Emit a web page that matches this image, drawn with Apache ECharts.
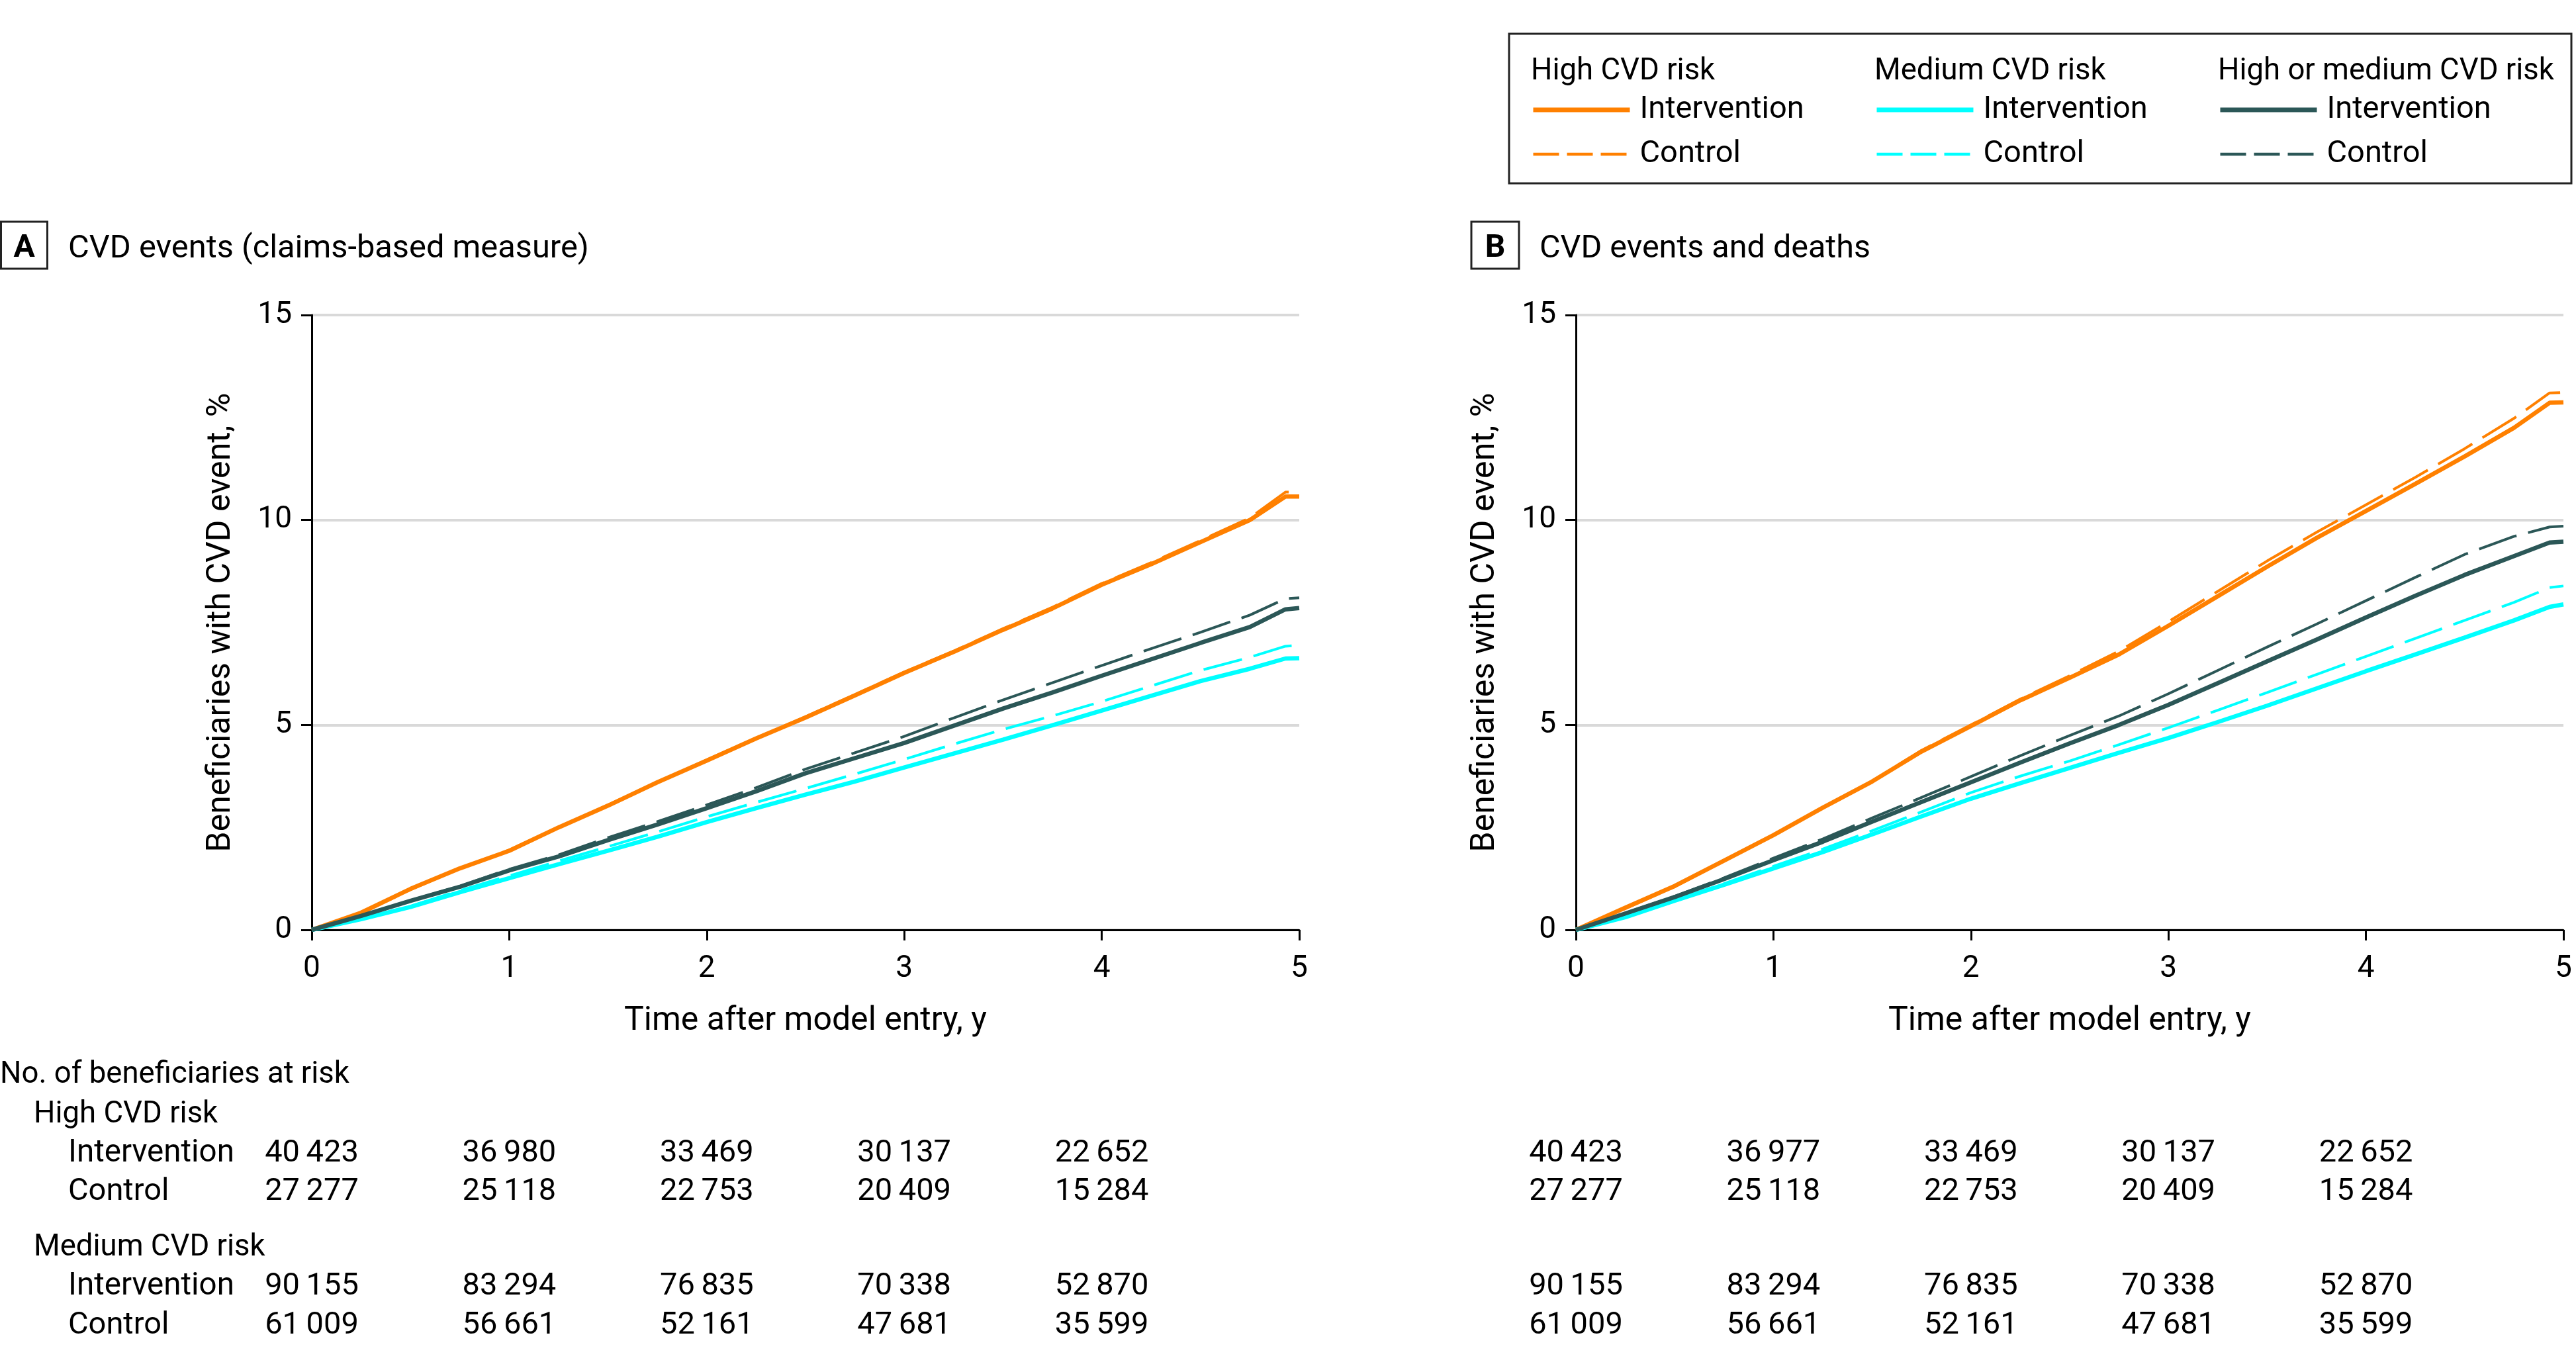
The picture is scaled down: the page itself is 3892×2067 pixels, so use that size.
<!DOCTYPE html>
<html>
<head>
<meta charset="utf-8">
<script src="https://cdn.jsdelivr.net/npm/echarts@6/dist/echarts.min.js"></script>
<style>
  html, body { margin: 0; padding: 0; background: #fff; }
  #main { width: 3892px; height: 2067px; }
</style>
</head>
<body>
<div id="main"></div>
<script>
// time points (years after model entry)
var years = [0, 0.25, 0.5, 0.75, 1, 1.25, 1.5, 1.75, 2, 2.25, 2.5, 2.75, 3, 3.25, 3.5, 3.75, 4, 4.25, 4.5, 4.75, 4.93, 5];

// A: CVD events (claims-based measure), cumulative %
var highIntA = [0, 0.42, 1.0, 1.5, 1.93, 2.5, 3.03, 3.6, 4.13, 4.67, 5.18, 5.72, 6.27, 6.78, 7.32, 7.84, 8.42, 8.92, 9.46, 10.0, 10.57, 10.57];
var highCtlA = [0, 0.4, 0.98, 1.5, 1.95, 2.5, 3.05, 3.6, 4.15, 4.68, 5.2, 5.74, 6.29, 6.8, 7.35, 7.87, 8.45, 8.96, 9.5, 10.05, 10.68, 10.68];
var medIntA = [0, 0.26, 0.56, 0.92, 1.26, 1.6, 1.93, 2.27, 2.63, 2.97, 3.3, 3.62, 3.96, 4.3, 4.64, 4.99, 5.35, 5.71, 6.07, 6.37, 6.62, 6.63];
var medCtlA = [0, 0.27, 0.58, 0.96, 1.32, 1.68, 2.03, 2.39, 2.76, 3.11, 3.45, 3.8, 4.16, 4.53, 4.89, 5.22, 5.57, 5.95, 6.33, 6.65, 6.92, 6.94];
var bothIntA = [0, 0.34, 0.71, 1.05, 1.45, 1.79, 2.19, 2.57, 2.97, 3.38, 3.82, 4.19, 4.56, 4.98, 5.4, 5.79, 6.2, 6.6, 7.0, 7.39, 7.82, 7.85];
var bothCtlA = [0, 0.34, 0.72, 1.07, 1.48, 1.83, 2.25, 2.64, 3.05, 3.47, 3.92, 4.32, 4.72, 5.17, 5.61, 6.03, 6.45, 6.86, 7.26, 7.68, 8.08, 8.1];

// B: CVD events and deaths, cumulative %
var highIntB = [0, 0.54, 1.07, 1.69, 2.31, 2.98, 3.62, 4.35, 4.97, 5.6, 6.15, 6.72, 7.42, 8.14, 8.86, 9.56, 10.22, 10.88, 11.55, 12.25, 12.86, 12.87];
var highCtlB = [0, 0.52, 1.05, 1.68, 2.3, 2.98, 3.63, 4.38, 5.0, 5.63, 6.2, 6.8, 7.52, 8.26, 9.0, 9.7, 10.37, 11.04, 11.74, 12.48, 13.1, 13.11];
var medIntB = [0, 0.31, 0.71, 1.1, 1.5, 1.9, 2.33, 2.77, 3.2, 3.58, 3.95, 4.32, 4.68, 5.07, 5.47, 5.89, 6.31, 6.72, 7.13, 7.55, 7.88, 7.94];
var medCtlB = [0, 0.32, 0.73, 1.13, 1.55, 1.97, 2.42, 2.88, 3.35, 3.75, 4.12, 4.52, 4.93, 5.36, 5.79, 6.23, 6.67, 7.11, 7.55, 7.99, 8.35, 8.39];
var bothIntB = [0, 0.4, 0.8, 1.24, 1.7, 2.15, 2.64, 3.12, 3.6, 4.08, 4.55, 5.0, 5.49, 6.02, 6.55, 7.08, 7.62, 8.15, 8.66, 9.12, 9.45, 9.47];
var bothCtlB = [0, 0.41, 0.82, 1.27, 1.75, 2.22, 2.73, 3.23, 3.74, 4.25, 4.74, 5.22, 5.76, 6.33, 6.9, 7.46, 8.03, 8.6, 9.16, 9.6, 9.83, 9.85];

// number at risk
var riskYears = [0, 1, 2, 3, 4];
var riskHighIntA = [40423, 36980, 33469, 30137, 22652];
var riskHighCtlA = [27277, 25118, 22753, 20409, 15284];
var riskMedIntA = [90155, 83294, 76835, 70338, 52870];
var riskMedCtlA = [61009, 56661, 52161, 47681, 35599];
var riskHighIntB = [40423, 36977, 33469, 30137, 22652];
var riskHighCtlB = [27277, 25118, 22753, 20409, 15284];
var riskMedIntB = [90155, 83294, 76835, 70338, 52870];
var riskMedCtlB = [61009, 56661, 52161, 47681, 35599];

var FONT = 'Roboto, "Liberation Sans", sans-serif';
var ORANGE = '#FF8000', CYAN = '#00FFFF', DARK = '#2B5757';

var chart = echarts.init(document.getElementById('main'));

function makeLine(name, values, idx, color, dashed) {
    return {
        type: 'line',
        name: name,
        xAxisIndex: idx,
        yAxisIndex: idx,
        symbol: 'none',
        showSymbol: false,
        silent: true,
        z: dashed ? 2 : 3,
        itemStyle: {color: color},
        lineStyle: {color: color, width: dashed ? 4 : 6.5, type: dashed ? [60, 18] : 'solid'},
        data: years.map(function (t, i) { return [t, values[i]]; })
    };
}

function xAxisOf(idx) {
    return {
        type: 'value', gridIndex: idx, min: 0, max: 5, interval: 1,
        axisLine: {show: true, lineStyle: {color: '#000', width: 3}},
        axisTick: {show: true, length: 16, lineStyle: {color: '#000', width: 3}},
        axisLabel: {fontSize: 46, color: '#000', margin: 36, fontFamily: FONT},
        splitLine: {show: false},
        name: 'Time after model entry, y',
        nameLocation: 'middle',
        nameGap: 113,
        nameTextStyle: {fontSize: 50, color: '#000', fontFamily: FONT}
    };
}

function yAxisOf(idx) {
    return {
        type: 'value', gridIndex: idx, min: 0, max: 15, interval: 5,
        axisLine: {show: true, lineStyle: {color: '#000', width: 3}},
        axisTick: {show: true, length: 16, lineStyle: {color: '#000', width: 3}},
        axisLabel: {fontSize: 46, color: '#000', margin: 30, fontFamily: FONT},
        splitLine: {show: true, lineStyle: {color: '#D9D9D9', width: 4}},
        name: 'Beneficiaries with CVD event, %',
        nameLocation: 'middle',
        nameGap: 112,
        nameRotate: 90,
        nameTextStyle: {fontSize: 50, color: '#000', fontFamily: FONT}
    };
}

function legendOf(left, group) {
    return {
        left: left, top: 142, orient: 'vertical', padding: 0,
        itemWidth: 146, itemHeight: 10, itemGap: 19,
        selectedMode: false,
        textStyle: {fontSize: 47, lineHeight: 48, color: '#000', fontFamily: FONT, padding: [0, 0, 0, 10]},
        formatter: function (n) { return n.split('|')[1]; },
        data: [
            {name: group + '|Intervention', lineStyle: {width: 7, type: 'solid'}, itemStyle: {opacity: 0}},
            {name: group + '|Control', lineStyle: {width: 4.5, type: [39, 12]}, itemStyle: {opacity: 0}}
        ]
    };
}

var series = [
    makeLine('High CVD risk|Control', highCtlA, 0, ORANGE, true),
    makeLine('Medium CVD risk|Control', medCtlA, 0, CYAN, true),
    makeLine('High or medium CVD risk|Control', bothCtlA, 0, DARK, true),
    makeLine('High CVD risk|Intervention', highIntA, 0, ORANGE, false),
    makeLine('Medium CVD risk|Intervention', medIntA, 0, CYAN, false),
    makeLine('High or medium CVD risk|Intervention', bothIntA, 0, DARK, false),
    makeLine('High CVD risk|Control', highCtlB, 1, ORANGE, true),
    makeLine('Medium CVD risk|Control', medCtlB, 1, CYAN, true),
    makeLine('High or medium CVD risk|Control', bothCtlB, 1, DARK, true),
    makeLine('High CVD risk|Intervention', highIntB, 1, ORANGE, false),
    makeLine('Medium CVD risk|Intervention', medIntB, 1, CYAN, false),
    makeLine('High or medium CVD risk|Intervention', bothIntB, 1, DARK, false)
];

function txt(x, y, text, size, opts) {
    opts = opts || {};
    return {
        type: 'text', x: x, y: y, silent: true,
        style: {
            text: text, fill: '#000',
            font: (opts.bold ? 'bold ' : '') + size + 'px ' + FONT,
            align: opts.align || 'left', verticalAlign: 'middle'
        }
    };
}

var graphics = [
    // legend frame and headers
    {type: 'rect', silent: true, shape: {x: 2280, y: 51, width: 1605, height: 226},
        style: {fill: 'none', stroke: '#222', lineWidth: 3}},
    txt(2313, 109, 'High CVD risk', 45.5),
    txt(2832, 109, 'Medium CVD risk', 45.5),
    txt(3351, 109, 'High or medium CVD risk', 45.5),
    // panel titles
    {type: 'rect', silent: true, shape: {x: 1.5, y: 335, width: 70, height: 71},
        style: {fill: 'none', stroke: '#222', lineWidth: 3}},
    txt(36.5, 376, 'A', 48, {bold: true, align: 'center'}),
    txt(103, 377, 'CVD events (claims-based measure)', 48.8),
    {type: 'rect', silent: true, shape: {x: 2223, y: 335, width: 72, height: 71},
        style: {fill: 'none', stroke: '#222', lineWidth: 3}},
    txt(2259, 376, 'B', 48, {bold: true, align: 'center'}),
    txt(2326, 377, 'CVD events and deaths', 48.5),
    // at-risk table labels
    txt(0, 1625, 'No. of beneficiaries at risk', 45.5),
    txt(51, 1685, 'High CVD risk', 45.5),
    txt(103, 1743, 'Intervention', 47.5),
    txt(103, 1801, 'Control', 47),
    txt(51, 1886, 'Medium CVD risk', 45.5),
    txt(103, 1944, 'Intervention', 47.5),
    txt(103, 2003, 'Control', 47)
];

chart.setOption({
    animation: false,
    backgroundColor: '#fff',
    textStyle: {fontFamily: FONT},
    grid: [
        {left: 471, top: 476, width: 1492, height: 929},
        {left: 2381, top: 476, width: 1492, height: 929}
    ],
    xAxis: [xAxisOf(0), xAxisOf(1)],
    yAxis: [yAxisOf(0), yAxisOf(1)],
    legend: [
        legendOf(2313, 'High CVD risk'),
        legendOf(2832, 'Medium CVD risk'),
        legendOf(3351, 'High or medium CVD risk')
    ],
    series: series,
    graphic: graphics
});

// number-at-risk values placed under the ticks of each panel
function fmt(n) {
    return String(n).replace(/\B(?=(\d{3})+(?!\d))/g, '\u2009');
}
var rowY = [1743, 1801, 1944, 2003];
var tablesA = [riskHighIntA, riskHighCtlA, riskMedIntA, riskMedCtlA];
var tablesB = [riskHighIntB, riskHighCtlB, riskMedIntB, riskMedCtlB];
[[0, tablesA], [1, tablesB]].forEach(function (p) {
    p[1].forEach(function (row, r) {
        row.forEach(function (v, i) {
            var px = chart.convertToPixel({xAxisIndex: p[0]}, riskYears[i]);
            graphics.push(txt(px, rowY[r], fmt(v), 47, {align: 'center'}));
        });
    });
});
chart.setOption({graphic: graphics});
</script>
</body>
</html>
